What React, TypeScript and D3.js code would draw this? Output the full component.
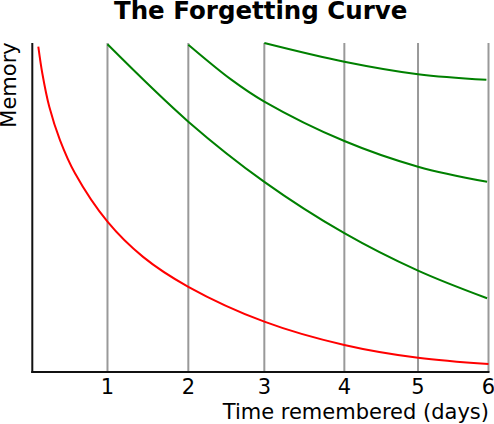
import React from "react";
import * as d3 from "d3";

// ---- data ----
const title = "The Forgetting Curve";
const xLabel = "Time remembered (days)";
const yLabel = "Memory";

const dayTicks = [1, 2, 3, 4, 5, 6];
const tickLabels = ["1", "2", "3", "4", "5", "6"];

// Forgetting curve without review (red)
const noReviewDays = [0.08, 0.133, 0.226, 0.368, 0.568, 1, 1.44, 2, 3, 4, 5, 6];
const noReviewMemory = [98.9, 90.8, 80.6, 70.5, 60.4, 45.7, 35.0, 25.9, 15.3, 8.2, 4.3, 2.4];

// After review on day 1
const review1Days = [1, 2, 3, 4, 5, 5.98];
const review1Memory = [99.6, 76.1, 57.8, 42.2, 30.8, 22.4];

// After review on day 2
const review2Days = [2, 2.57, 3, 4, 5, 5.98];
const review2Memory = [99.5, 88.8, 82.2, 70.2, 62.4, 57.8];

// After review on day 3
const review3Days = [3, 4, 5, 5.97];
const review3Memory = [100, 94.3, 90.5, 88.8];

const reviewSeries = [
  { days: review1Days, memory: review1Memory },
  { days: review2Days, memory: review2Memory },
  { days: review3Days, memory: review3Memory },
];

// hand-drawn, slightly uneven spacing of the day grid (fraction of axis length)
const dayDomain = [0, 1, 2, 3, 4, 5, 6];
const daySpacing = [0, 0.1648, 0.342, 0.5086, 0.684, 0.8455, 1];

export default function App() {
  const W = 494;
  const H = 424;
  const left = 32.3;
  const right = 488.5;
  const top = 43;
  const bottom = 372;

  const x = d3
    .scaleLinear()
    .domain(dayDomain)
    .range(daySpacing.map((f) => left + f * (right - left)));
  const y = d3.scaleLinear().domain([0, 100]).range([bottom, top]);

  const line = d3
    .line<[number, number]>()
    .x((d) => x(d[0]))
    .y((d) => y(d[1]))
    .curve(d3.curveCatmullRom.alpha(0.5));

  const zip = (a: number[], b: number[]) => a.map((v, i) => [v, b[i]] as [number, number]);

  const font = "'DejaVu Sans', sans-serif";

  return (
    <svg
      width={W}
      height={H}
      style={{ position: "absolute", left: 0, top: 0, background: "#fff" }}
      fontFamily={font}
    >
      <rect width={W} height={H} fill="#fff" />
      {/* grid lines */}
      {dayTicks.map((d) => (
        <line
          key={d}
          x1={x(d)}
          x2={x(d)}
          y1={y(100)}
          y2={bottom}
          stroke="#999"
          strokeWidth={2}
        />
      ))}
      {/* curves */}
      <path d={line(zip(noReviewDays, noReviewMemory)) || ""} fill="none" stroke="#ff0000" strokeWidth={2} />
      {reviewSeries.map((s, i) => (
        <path key={i} d={line(zip(s.days, s.memory)) || ""} fill="none" stroke="#008000" strokeWidth={2} />
      ))}
      {/* axes */}
      <line x1={left} x2={left} y1={top} y2={bottom + 1} stroke="#111" strokeWidth={2} />
      <line x1={left - 1} x2={right + 1} y1={bottom} y2={bottom} stroke="#111" strokeWidth={2} />
      {/* tick labels */}
      {dayTicks.map((d, i) => (
        <text key={d} x={x(d)} y={394} fontSize={21} textAnchor="middle" fill="#000">
          {tickLabels[i]}
        </text>
      ))}
      {/* labels */}
      <text x={489} y={419} fontSize={21} textAnchor="end" fill="#000">
        {xLabel}
      </text>
      <text
        transform={`translate(16, 85) rotate(-90)`}
        fontSize={21}
        textAnchor="middle"
        fill="#000"
      >
        {yLabel}
      </text>
      <text x={260.7} y={19} fontSize={24.5} fontWeight="bold" textAnchor="middle" fill="#000">
        {title}
      </text>
    </svg>
  );
}
